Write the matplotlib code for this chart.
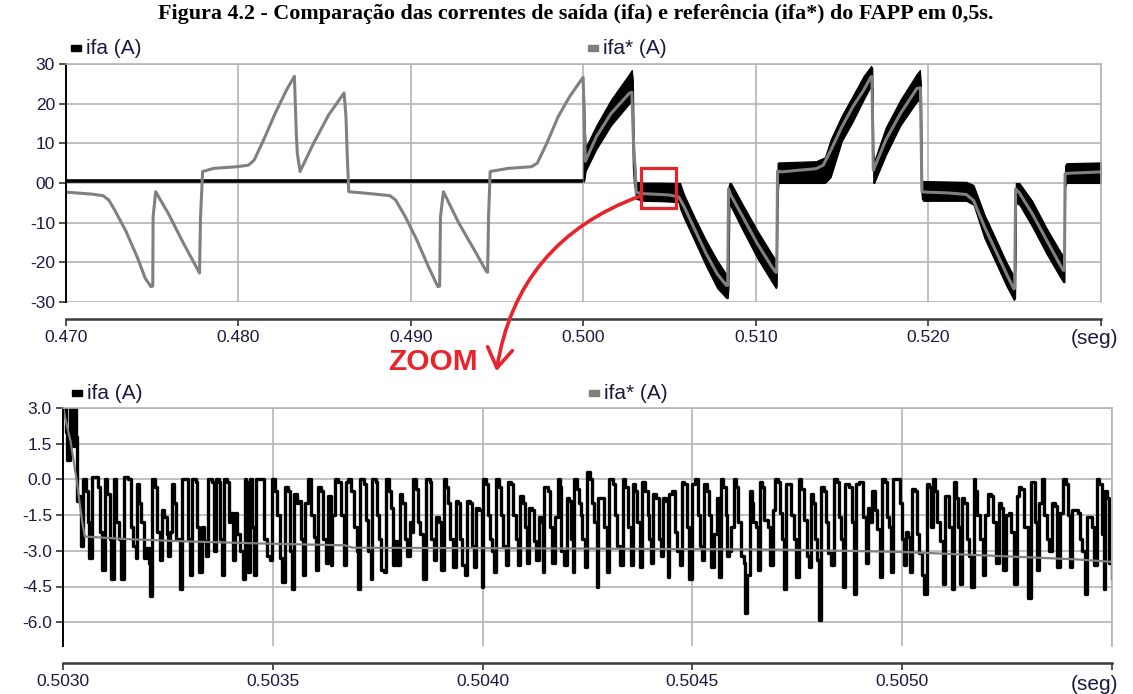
#!/usr/bin/env python3
"""Figura 4.2 - ifa vs ifa* do FAPP em 0,5s (painel geral + zoom)."""

import matplotlib
matplotlib.use('Agg')  # no display
import matplotlib.pyplot as plt
from matplotlib.patches import FancyArrowPatch, Rectangle
import numpy as np

# ---------------- top panel data (seconds, amperes) ----------------
ref_top_t = [0.47000, 0.47149, 0.47215, 0.47248, 0.47282, 0.47348, 0.47415, 0.47459, 0.47492, 0.47503,
             0.47505, 0.47520, 0.47592, 0.47681, 0.47769, 0.47774, 0.47780, 0.47792, 0.47858, 0.47991,
             0.48058, 0.48091, 0.48146, 0.48213, 0.48279, 0.48324, 0.48335, 0.48341, 0.48357, 0.48435,
             0.48523, 0.48612, 0.48623, 0.48630, 0.48639, 0.48745, 0.48878, 0.48911, 0.48967, 0.49033,
             0.49100, 0.49155, 0.49166, 0.49171, 0.49188, 0.49277, 0.49366, 0.49437, 0.49444, 0.49450,
             0.49459, 0.49565, 0.49698, 0.49732, 0.49787, 0.49854, 0.49920, 0.49987, 0.49998, 0.50006,
             0.50011, 0.50074, 0.50159, 0.50265, 0.50280, 0.50290, 0.50300, 0.50305, 0.50350, 0.50450,
             0.50500, 0.50552, 0.50584, 0.50648, 0.50711, 0.50775, 0.50828, 0.50836, 0.50841, 0.50850,
             0.50924, 0.51008, 0.51093, 0.51115, 0.51120, 0.51125, 0.51146, 0.51242, 0.51348, 0.51390,
             0.51433, 0.51497, 0.51561, 0.51624, 0.51667, 0.51672, 0.51680, 0.51752, 0.51837, 0.51932,
             0.51953, 0.51962, 0.51985, 0.52113, 0.52219, 0.52261, 0.52325, 0.52389, 0.52452, 0.52495,
             0.52500, 0.52505, 0.52527, 0.52601, 0.52686, 0.52760, 0.52781, 0.52788, 0.52792, 0.52834,
             0.53004]
ref_top_v = [-2.3, -2.8, -3.2, -4.3, -6.8, -12.2, -18.9, -24.0, -26.1, -26.0,
             -8.5, -2.2, -7.6, -15.2, -22.3, -22.7, -8.5, 2.9, 3.7, 4.1,
             4.5, 5.8, 10.9, 17.6, 23.5, 26.9, 12.6, 7.5, 2.9, 10.0,
             17.2, 22.7, 16.8, 7.5, -2.2, -2.6, -3.2, -4.3, -8.5, -14.3,
             -21.0, -26.1, -26.0, -8.5, -2.2, -10.1, -16.8, -22.3, -22.5, -8.0,
             2.9, 3.7, 4.1, 5.0, 10.0, 16.8, 21.8, 26.0, 26.6, 12.0,
             5.5, 11.6, 17.5, 22.6, 22.9, 10.0, 3.1, -2.4, -2.7, -2.9,
             -3.05, -3.5, -6.0, -12.0, -17.8, -22.9, -25.8, -25.8, -1.5, -2.7,
             -8.6, -15.3, -21.2, -22.5, -22.5, 3.0, 2.8, 3.2, 3.6, 4.5,
             8.2, 14.1, 19.2, 23.4, 26.8, 26.8, 3.2, 10.8, 17.5, 23.8,
             24.0, -2.2, -2.3, -2.5, -2.9, -4.4, -11.1, -17.0, -22.9, -26.7,
             -26.5, -1.5, -2.5, -7.7, -14.5, -20.4, -22.0, -22.0, 2.4, 2.5,
             2.8]

# ifa before the filter is switched on
ifa_off_t = [0.47000, 0.50000]
ifa_off_v = [0.4, 0.4]

# ifa after 0.5 s: envelope of the hysteresis band
ifa_band_t = [0.50000, 0.50002, 0.50006, 0.50012, 0.50074, 0.50159, 0.50265, 0.50280, 0.50286, 0.50292,
              0.50300, 0.50305, 0.50350, 0.50450, 0.50552, 0.50560, 0.50584, 0.50648, 0.50711, 0.50775,
              0.50828, 0.50836, 0.50840, 0.50846, 0.50855, 0.50924, 0.51008, 0.51093, 0.51115, 0.51120,
              0.51125, 0.51130, 0.51348, 0.51400, 0.51433, 0.51497, 0.51561, 0.51624, 0.51667, 0.51674,
              0.51680, 0.51685, 0.51752, 0.51837, 0.51932, 0.51950, 0.51956, 0.51962, 0.51970, 0.52219,
              0.52261, 0.52325, 0.52389, 0.52452, 0.52495, 0.52502, 0.52506, 0.52527, 0.52601, 0.52686,
              0.52760, 0.52781, 0.52788, 0.52792, 0.52800, 0.53004]
ifa_band_lo = [0.4, 0.4, 1.0, 3.0, 8.5, 14.5, 20.0, 20.5, 4.0, 0.0,
               -2.0, -4.0, -4.5, -4.6, -4.8, -6.5, -9.0, -15.0, -21.0, -26.5,
               -29.0, -29.0, -27.0, -5.0, -6.0, -12.0, -19.0, -25.0, -26.5, -26.0,
               -4.0, 0.0, 0.0, 0.0, 1.5, 10.5, 15.5, 21.0, 24.5, 24.0,
               0.0, 0.0, 7.0, 14.5, 20.5, 21.0, -1.0, -4.0, -4.5, -4.5,
               -5.5, -14.0, -20.0, -26.0, -29.5, -29.0, -5.0, -5.5, -11.0, -18.0,
               -23.5, -25.0, -25.0, -1.0, 0.0, 0.0]
ifa_band_hi = [0.6, 23.5, 16.0, 9.0, 14.5, 21.0, 27.5, 28.5, 26.0, 8.0,
               3.0, 0.3, 0.1, 0.1, 0.0, 0.0, -3.0, -9.0, -14.5, -19.5,
               -23.0, -22.5, -1.0, 0.0, 0.0, -5.5, -12.0, -18.0, -19.5, -18.0,
               5.0, 5.2, 5.5, 6.5, 11.0, 17.0, 22.0, 27.0, 29.5, 29.0,
               8.0, 5.5, 14.0, 21.0, 27.5, 28.5, 25.0, 0.5, 0.5, 0.3,
               -0.5, -8.0, -14.0, -20.0, -23.5, -22.0, 0.0, 0.0, -4.5, -11.5,
               -17.0, -18.5, -18.0, 4.5, 5.0, 5.2]

# ---------------- zoom panel data (microseconds after 0.5030 s) ----------------
ref_zoom_us = [0, 4, 10, 18, 26, 34, 39, 46, 52, 141, 284, 489, 672, 690, 1281, 1709, 2004, 2205, 2414, 2505]
ref_zoom_v = [3.1, 2.7, 2.2, 1.6, 0.7, -0.2, -0.9, -1.8, -2.4, -2.5, -2.6, -2.7, -2.77, -2.87, -2.91,
              -2.95, -3.05, -3.2, -3.36, -3.47]

ifa_zoom_us = [
    0, 6, 10, 17, 22, 26, 30, 33, 38, 42, 47, 55, 59, 63, 69, 84, 87, 93, 100, 106,
    111, 115, 121, 127, 133, 139, 145, 155, 161, 166, 173, 177, 182, 187, 193, 198, 204, 208, 212, 220,
    224, 230, 235, 241, 247, 251, 256, 260, 265, 270, 278, 284, 296, 298, 303, 308, 316, 320, 325, 332,
    336, 341, 345, 356, 360, 364, 371, 375, 379, 383, 391, 395,
    399, 406, 410, 415, 423, 428, 433, 437, 440, 445, 450, 456, 461, 480, 487, 493, 498, 506, 510, 517,
    523, 528, 536, 541, 545, 550, 557, 562, 568, 572, 577, 584, 590, 598, 603, 607, 614, 620, 627, 631,
    638, 642, 649, 655, 662, 669, 674, 679, 687, 693, 700, 704, 708, 717, 722, 728, 733, 737, 745, 749,
    754, 758, 765, 770, 776, 782, 787, 792, 797, 803, 809, 814,
    816, 821, 826, 831, 835, 842, 847, 851, 858, 864, 874, 878, 883, 889, 896, 902, 907, 913, 918, 923,
    929, 936, 942, 947, 952, 958, 963, 969, 975, 980, 985, 991, 998, 1001, 1007, 1012, 1017, 1023, 1028, 1031,
    1039, 1044, 1048, 1055, 1060, 1068, 1072, 1079, 1085, 1090, 1096, 1101, 1106, 1111, 1117, 1122, 1128,
    1134, 1139, 1144, 1147, 1155, 1160, 1166, 1173, 1179, 1184, 1188, 1193, 1200, 1206, 1211, 1215, 1219,
    1225, 1230,
    1234, 1238, 1243, 1249, 1256, 1261, 1265, 1272, 1276, 1289, 1296, 1302, 1310, 1315, 1321, 1327, 1334,
    1340, 1346, 1353, 1358, 1364, 1369, 1375, 1381, 1388, 1393, 1397, 1402, 1407, 1413, 1420, 1426, 1431,
    1437, 1442, 1445, 1451, 1458, 1464, 1470, 1475, 1480, 1486, 1493, 1499, 1507, 1513, 1518, 1523, 1528,
    1534, 1539, 1545, 1552, 1558, 1564, 1567, 1574, 1579, 1583, 1588, 1593, 1599, 1604, 1609, 1615, 1622,
    1626, 1631, 1637, 1641, 1645,
    1651, 1657, 1662, 1667, 1671, 1679, 1686, 1692, 1697, 1703, 1708, 1713, 1718, 1722, 1735, 1741, 1748,
    1753, 1759, 1765, 1772, 1778, 1783, 1787, 1792, 1797, 1802, 1807, 1813, 1818, 1824, 1830, 1837, 1845,
    1850, 1854, 1859, 1864, 1873, 1880, 1886, 1889, 1897, 1907, 1913, 1918, 1924, 1929, 1934, 1939, 1946,
    1951, 1959, 1964, 1969, 1974, 1977, 1994, 1999, 2004, 2009, 2013, 2018, 2024, 2031, 2036, 2040, 2047,
    2053, 2058, 2064,
    2068, 2074, 2079, 2084, 2090, 2097, 2103, 2112, 2119, 2124, 2128, 2133, 2138, 2143, 2147, 2154, 2160,
    2165, 2170, 2174, 2179, 2186, 2192, 2197, 2205, 2211, 2217, 2224, 2230, 2236, 2241, 2248, 2254, 2260,
    2267, 2273, 2278, 2284, 2291, 2299, 2306, 2316, 2321, 2326, 2332, 2338, 2345, 2351, 2357, 2364, 2370,
    2375, 2384, 2391, 2395, 2400, 2405, 2418, 2423, 2429, 2435, 2440, 2453, 2458, 2464, 2470, 2475, 2480,
    2483, 2489, 2494, 2499, 2505]
ifa_zoom_v = [
    3.0, 2.0, 0.8, 3.4, 1.4, 3.4, 1.8, -0.9, -0.7, -2.8, 0.0, -0.5, -1.8, -3.3, 0.1, -0.3, -2.2, -3.8, 0.0, -0.6,
    -2.5, -4.2, 0.0, -1.8, -2.5, -4.2, 0.1, 0.0, -2.0, -2.8, -3.3, -0.2, -1.0, -1.8, -3.3, -2.9, -3.5, -4.9, 0.0, -0.3,
    -2.2, -3.4, -1.3, -1.6, -2.3, -3.2, -2.2, -0.2, -1.0, -2.5, -4.6, 0.0, 0.0, -2.5, -4.0, 0.0, -0.1, -2.0, -3.9, -2.0,
    -2.6, -3.2, 0.0, -0.1, -3.0, 0.0, -0.1, -2.5, -4.0, 0.0, -0.1, -1.8,
    -1.4, -3.4, -1.4, -2.3, -3.0, -4.2, 0.0, -0.1, -3.9, 0.0, -2.0, -4.0, 0.0, -2.5, -3.2, -3.4, 0.0, -0.5, -1.5, -3.3,
    -4.3, -0.3, -0.5, -3.0, -4.6, -0.6, -1.0, -0.9, -2.5, -4.0, -1.0, 0.0, -1.5, -2.4, -3.8, -0.3, -0.5, -2.5, -3.5, -0.7,
    -3.6, -1.5, 0.0, -0.1, -1.5, -3.6, -0.1, 0.0, -0.5, -2.0, -3.0, -4.6, 0.0, -0.2, -1.7, -3.0, -4.2, 0.0, -0.1, -1.5,
    -2.5, -3.8, -3.9, 0.0, -0.5, -1.2, -3.6, -2.6, -3.6, -0.6, -1.0, -2.0,
    -2.5, -3.2, -1.8, -2.2, 0.0, -0.4, -1.8, -2.3, -4.2, 0.0, -0.1, -2.5, -3.4, -1.6, -1.8, -3.8, 0.0, -0.3, -1.0, -2.5,
    -3.7, -0.9, -1.0, -2.5, -3.6, -4.0, -0.9, -1.0, -2.8, -3.7, -1.2, -1.3, -4.5, 0.0, -0.2, -1.5, -2.5, -3.0, -3.9, 0.0,
    -0.3, -1.5, -2.8, -3.6, -0.1, -0.2, -1.5, -2.5, -3.6, -0.7, -1.0, -2.0, -3.5, -1.2, -1.3, -2.6, -3.4,
    -1.6, -1.8, -3.9, -0.3, -0.5, -2.0, -3.5, -1.6, 0.0, -0.3, -3.0, -3.6, -0.8, -0.9, -2.5, -3.9, 0.0,
    -0.4, -1.0,
    -1.5, -2.5, -3.7, 0.3, 0.0, -1.0, -1.8, -4.5, -0.8, -2.0, -3.9, 0.0, -0.2, -1.5, -2.8, -3.6, 0.0,
    -0.3, -2.0, -3.6, -0.2, -0.5, -1.8, -3.7, -0.1, -0.5, -1.5, -2.5, -3.5, -0.6, -0.8, -2.5, -3.2, -0.8,
    -0.9, -4.1, -0.6, -0.5, -2.2, -3.0, -3.6, -0.1, -0.2, -2.0, -4.2, -0.2, 0.0, -1.5, -2.8, -3.4, -0.2,
    -0.5, -1.5, -3.7, -2.3, -0.8, -4.1, 0.0, -0.3, -1.5, -3.2, -3.0, -2.0, 0.0, -0.3, -1.8, -3.2, -3.5,
    -5.6, -4.0, -0.5, -1.0, -1.8,
    -2.0, -3.8, -0.1, -0.3, -1.7, -2.0, -3.6, -1.3, 0.0, -0.1, -1.4, -2.5, -4.6, -0.2, -1.5, -2.5, -4.1,
    0.0, -0.4, -1.7, -3.2, -3.7, -0.6, -1.0, -2.5, -3.4, -5.9, -0.3, -0.5, -1.8, -3.1, -3.6, 0.0, -0.1,
    -1.6, -2.5, -4.5, -0.2, -0.3, -1.8, -4.8, -0.2, -0.1, -1.6, -3.5, -1.2, -1.8, -0.5, -1.3, -2.1, -4.1,
    0.0, -0.1, -1.6, -2.0, -3.9, 0.0, -1.0, -2.5, -3.6, -2.2, -2.4, -3.9, -0.4, -0.5, -2.3, -3.1, -4.0,
    -4.8, -0.2, -0.3,
    -2.0, 0.0, -0.5, -1.8, -2.6, -4.4, -0.7, -2.0, -4.6, -0.1, -0.8, -2.0, -4.4, -0.8, -1.0, -2.5, -3.2,
    -4.5, 0.0, -0.5, -1.5, -2.5, -4.0, -1.5, -0.6, -0.7, -1.8, -3.5, -1.0, -1.2, -3.8, -1.5, -1.4, -2.2,
    -4.4, -0.7, -0.3, -0.4, -2.0, -5.0, -0.1, -1.8, -3.8, -1.0, 0.0, -1.5, -2.5, -3.0, -1.0, -1.1, -3.7,
    -1.4, 0.0, -0.2, -1.5, -3.7, -1.3, -1.4, -2.5, -3.0, -4.8, -1.6, -2.0, -3.6, 0.0, -0.2, -2.3, -4.6,
    -0.5, -0.8, -3.5, -4.2, -4.0]

ZOOM_T0 = 0.5030

top_xticks = [0.470, 0.480, 0.490, 0.500, 0.510, 0.520, 0.530]
top_xlabels = ['0.470', '0.480', '0.490', '0.500', '0.510', '0.520', '']
top_yticks = [-30, -20, -10, 0, 10, 20, 30]
top_ylabels = ['-30', '-20', '-10', '00', '10', '20', '30']

zoom_xticks = [0.5030, 0.5035, 0.5040, 0.5045, 0.5050, 0.5055]
zoom_xlabels = ['0.5030', '0.5035', '0.5040', '0.5045', '0.5050', '']
zoom_yticks = [-6.0, -4.5, -3.0, -1.5, 0.0, 1.5, 3.0]
zoom_ylabels = ['-6.0', '-4.5', '-3.0', '-1.5', '0.0', '1.5', '3.0']

TITLE = 'Figura 4.2 - Comparação das correntes de saída (ifa) e referência (ifa*) do FAPP em 0,5s.'

# ---------------- styling ----------------
W, H = 1133, 694
GRID = '#b4b4b4'
TXT = '#1a1a40'
GRAY = '#808080'
RED = '#e8242c'

plt.rcParams['font.family'] = ['Liberation Sans', 'DejaVu Sans']


def fx(x):
    return x / W


def fy(y):
    return 1 - y / H


def box(left, top, right, bottom):
    return [fx(left), fy(bottom), (right - left) / W, (bottom - top) / H]


def style_axes(ax, xt, xl, yt, yl):
    ax.set_xticks(xt)
    ax.set_xticklabels(xl)
    ax.set_yticks(yt)
    ax.set_yticklabels(yl)
    ax.grid(True, color=GRID, lw=1.2)
    ax.set_axisbelow(True)
    for side in ('top', 'right'):
        ax.spines[side].set_color(GRID)
        ax.spines[side].set_linewidth(1.2)
    ax.spines['left'].set_color('black')
    ax.spines['left'].set_linewidth(1.4)
    # x axis sits a bit below the plot area (offset in points)
    ax.spines['bottom'].set_position(('outward', 12.3))
    ax.spines['bottom'].set_color('#3c3c3c')
    ax.spines['bottom'].set_linewidth(1.8)
    ax.tick_params(axis='both', direction='out', length=5, width=1.1,
                   color='#222222', labelcolor=TXT, labelsize=12.5, pad=3)


fig = plt.figure(figsize=(W / 100, H / 100), dpi=100)

# top panel
ax1 = fig.add_axes(box(66, 64, 1101, 302))
ax1.plot(ifa_off_t, ifa_off_v, color='black', lw=2.6, solid_capstyle='butt')
ax1.fill_between(ifa_band_t, ifa_band_lo, ifa_band_hi, color='black', lw=0.8)
ax1.plot(ref_top_t, ref_top_v, color=GRAY, lw=2.2)
ax1.set_xlim(0.470, 0.530)
ax1.set_ylim(-30, 30)
style_axes(ax1, top_xticks, top_xlabels, top_yticks, top_ylabels)
ax1.add_patch(Rectangle((0.50335, -6.3), 0.00203, 10.1, fill=False, ec=RED,
                        lw=2.3, clip_on=False, zorder=6))

# zoom panel
ax2 = fig.add_axes(box(63, 408, 1112, 646))
zt = ZOOM_T0 + np.array(ifa_zoom_us) * 1e-6
ax2.plot(zt, ifa_zoom_v, drawstyle='steps-post', color='black', lw=2.4)
rt = ZOOM_T0 + np.array(ref_zoom_us) * 1e-6
ax2.plot(rt, ref_zoom_v, color=GRAY, lw=1.6)
ax2.set_xlim(0.5030, 0.5055)
ax2.set_ylim(-7, 3)
style_axes(ax2, zoom_xticks, zoom_xlabels, zoom_yticks, zoom_ylabels)

# legends (drawn like the simulator: small square + label)
for (sx, sy, col, label) in [(71, 48, 'black', 'ifa (A)'), (588, 48, GRAY, 'ifa* (A)'),
                             (72, 393, 'black', 'ifa (A)'), (589, 393, GRAY, 'ifa* (A)')]:
    fig.add_artist(Rectangle((fx(sx), fy(sy + 3)), 10 / W, 6 / H,
                             transform=fig.transFigure, color=col))
    fig.text(fx(sx + 15), fy(sy), label, fontsize=15, color=TXT, va='center', ha='left')

fig.text(fx(1118), fy(338), '(seg)', fontsize=15, color=TXT, ha='right', va='center')
fig.text(fx(1118), fy(684), '(seg)', fontsize=15, color=TXT, ha='right', va='center')

fig.text(fx(576), fy(14), TITLE, fontsize=15.8, fontweight='bold', ha='center', va='center',
         family=['Liberation Serif', 'DejaVu Serif'])

# red zoom marker
arrow = FancyArrowPatch(posA=(fx(643), fy(195)), posB=(fx(496), fy(374)),
                        transform=fig.transFigure, connectionstyle='arc3,rad=0.3',
                        arrowstyle='->,head_length=0.7,head_width=0.45',
                        mutation_scale=20, color=RED, lw=2.6)
fig.add_artist(arrow)
fig.text(fx(388), fy(362), 'ZOOM', color=RED, fontsize=21.5, fontweight='bold',
         ha='left', va='center')

fig.savefig('out.png', dpi=100)
plt.close(fig)
